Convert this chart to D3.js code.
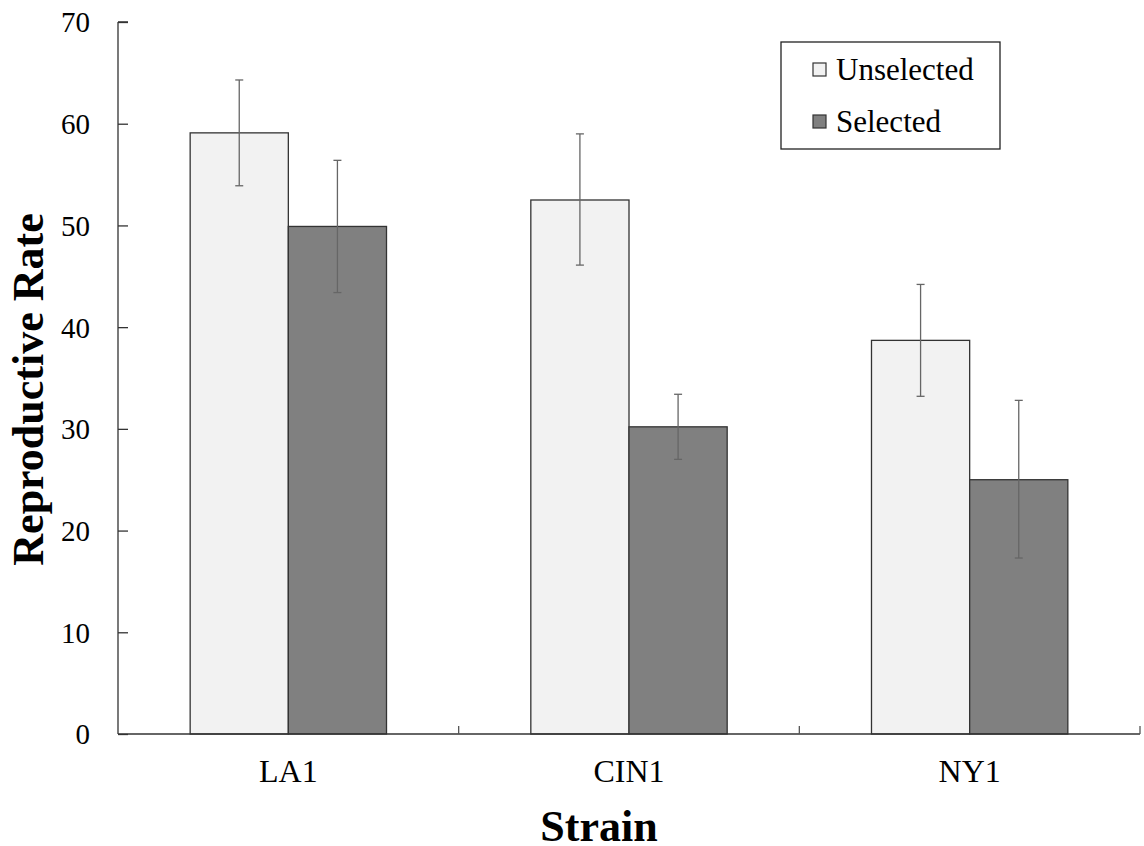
<!DOCTYPE html>
<html>
<head>
<meta charset="utf-8">
<script src="https://cdnjs.cloudflare.com/ajax/libs/d3/7.8.5/d3.min.js"></script>
<style>
  body { margin: 0; background: #fff; }
  svg { display: block; font-family: "Liberation Serif", "Times New Roman", serif; }
</style>
</head>
<body>
<div class="chart"></div>
<script>
var strains = ["LA1", "CIN1", "NY1"];
var groups = ["Unselected", "Selected"];
var unselected = [59.1, 52.5, 38.7];
var unselectedErrLow = [53.9, 46.1, 33.2];
var unselectedErrHigh = [64.3, 59.0, 44.2];
var selected = [49.9, 30.2, 25.0];
var selectedErrLow = [43.4, 27.0, 17.3];
var selectedErrHigh = [56.4, 33.4, 32.8];
var yTicks = [0, 10, 20, 30, 40, 50, 60, 70];

var width = 1144, height = 846;
var margin = ({ top: 22, right: 4, bottom: 112, left: 118 });
var serif = "'Liberation Serif', 'Times New Roman', serif";
var colors = { "Unselected": "#f2f2f2", "Selected": "#808080" };

// flatten into one row per bar
var data = [];
strains.forEach(function (s, i) {
    data.push({ strain: s, group: "Unselected", value: unselected[i], lo: unselectedErrLow[i], hi: unselectedErrHigh[i] });
    data.push({ strain: s, group: "Selected", value: selected[i], lo: selectedErrLow[i], hi: selectedErrHigh[i] });
});

var svg = d3.select(".chart")
    .append("svg")
    .attr("width", width)
    .attr("height", height);

var x = d3.scaleBand()
    .domain(strains)
    .range([margin.left, width - margin.right]);

var xInner = d3.scaleBand()
    .domain(groups)
    .range([0, x.bandwidth()])
    .paddingOuter(0.735);

var y = d3.scaleLinear()
    .domain([0, 70])
    .range([height - margin.bottom, margin.top]);

// bars
svg.selectAll(".bar")
    .data(data)
    .enter().append("rect")
    .attr("x", d => x(d.strain) + xInner(d.group))
    .attr("y", d => y(d.value))
    .attr("width", xInner.bandwidth())
    .attr("height", d => y(0) - y(d.value))
    .attr("fill", d => colors[d.group])
    .attr("stroke", "#333")
    .attr("stroke-width", 1.3);

// error bars
var err = svg.selectAll(".err")
    .data(data)
    .enter().append("g")
    .attr("stroke", "#666")
    .attr("stroke-width", 1.3);

err.append("line")
    .attr("x1", d => x(d.strain) + xInner(d.group) + xInner.bandwidth() / 2)
    .attr("x2", d => x(d.strain) + xInner(d.group) + xInner.bandwidth() / 2)
    .attr("y1", d => y(d.lo))
    .attr("y2", d => y(d.hi));

["lo", "hi"].forEach(function (k) {
    err.append("line")
        .attr("x1", d => x(d.strain) + xInner(d.group) + xInner.bandwidth() / 2 - 4)
        .attr("x2", d => x(d.strain) + xInner(d.group) + xInner.bandwidth() / 2 + 4)
        .attr("y1", d => y(d[k]))
        .attr("y2", d => y(d[k]));
});

// y axis, ticks point inward
var yAxis = svg.append("g")
    .attr("transform", "translate(" + margin.left + ",0)")
    .call(d3.axisRight(y).tickValues(yTicks).tickSize(10).tickFormat(d3.format("d")));
yAxis.attr("font-family", serif).attr("font-size", 29);
yAxis.select(".domain").attr("stroke", "#333").attr("stroke-width", 1.3).attr("d", "M0," + y(70) + "H10M0," + y(70) + "V" + y(0));
yAxis.selectAll(".tick line").attr("stroke", "#333").attr("stroke-width", 1.3);
yAxis.selectAll(".tick text")
    .attr("x", -28)
    .attr("dy", "0.34em")
    .attr("text-anchor", "end")
    .attr("fill", "#000");

// x axis
svg.append("line")
    .attr("x1", margin.left).attr("x2", width - margin.right)
    .attr("y1", y(0)).attr("y2", y(0))
    .attr("stroke", "#333").attr("stroke-width", 1.6);

svg.selectAll(".xsep")
    .data(strains)
    .enter().append("line")
    .attr("x1", d => x(d) + x.bandwidth())
    .attr("x2", d => x(d) + x.bandwidth())
    .attr("y1", y(0))
    .attr("y2", y(0) - 8)
    .attr("stroke", "#555").attr("stroke-width", 1.3);

svg.selectAll(".xlabel")
    .data(strains)
    .enter().append("text")
    .attr("x", d => x(d) + x.bandwidth() / 2)
    .attr("y", 782)
    .attr("text-anchor", "middle")
    .attr("font-size", "32px")
    .text(d => d);

// axis titles
svg.append("text")
    .attr("x", 599)
    .attr("y", 841)
    .attr("text-anchor", "middle")
    .attr("font-size", "44px")
    .attr("font-weight", "bold")
    .text("Strain");

svg.append("text")
    .attr("transform", "translate(43,389.5) rotate(-90)")
    .attr("text-anchor", "middle")
    .attr("font-size", "44px")
    .attr("font-weight", "bold")
    .text("Reproductive Rate");

// legend
var legend = svg.append("g");
legend.append("rect")
    .attr("x", 781).attr("y", 42)
    .attr("width", 219).attr("height", 107)
    .attr("fill", "#fff")
    .attr("stroke", "#222").attr("stroke-width", 1.3);

var items = legend.selectAll(".item")
    .data(groups)
    .enter().append("g")
    .attr("transform", (d, i) => "translate(813," + (63 + i * 52) + ")");

items.append("rect")
    .attr("width", 13).attr("height", 13)
    .attr("fill", d => colors[d])
    .attr("stroke", "#333").attr("stroke-width", 1.2);

items.append("text")
    .attr("x", 23)
    .attr("y", 17)
    .attr("font-size", "31px")
    .text(d => d);
</script>
</body>
</html>
